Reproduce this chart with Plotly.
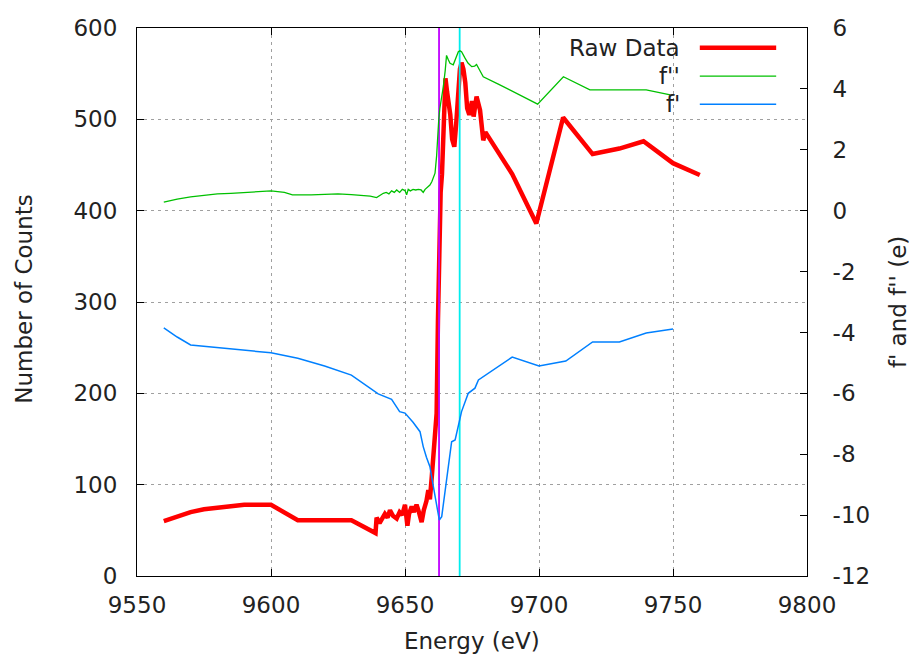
import plotly.graph_objects as go

# Raw counts vs. energy (left axis)
raw_energy = [9560, 9565, 9570, 9575, 9580, 9585, 9590, 9595, 9600, 9610, 9620, 9630,
              9639, 9639.4, 9640.5, 9641.3, 9642.5, 9643.5, 9644.4, 9645.5, 9646.9, 9648,
              9649, 9650, 9650.9, 9651.5, 9652.5, 9653.3, 9654.3, 9655.2, 9656.2, 9657,
              9658, 9658.7, 9659.3, 9660, 9660.6, 9661.8, 9662.3, 9662.8, 9663.3, 9663.8,
              9664.4, 9665.1, 9665.7, 9666.3, 9666.9, 9667.6, 9668.4, 9669.1, 9669.8,
              9670.5, 9671.1, 9671.8, 9672.5, 9673.2, 9674.0, 9675.0, 9675.6, 9676.7,
              9678.0, 9679.2, 9680.0, 9690, 9699, 9709, 9720, 9730, 9739, 9750, 9760]
raw_counts = [60, 65, 70, 73, 75, 77, 78, 78, 78, 61, 61, 61,
              47, 64, 58, 62, 68, 64, 72, 66, 63, 70,
              67, 78, 55, 68, 76, 70, 78, 70, 59, 72,
              82, 94, 84, 109, 138, 178, 280, 400, 420, 440,
              500, 545, 530, 520, 505, 478, 470, 495, 530,
              555, 562, 555, 540, 512, 505, 520, 503, 525,
              510, 477, 486, 440, 386, 502, 462, 468, 476, 452, 439]

# Anomalous scattering f'' (right axis)
f2_energy = [9560, 9565, 9570, 9575, 9580, 9585, 9590, 9595, 9600, 9605, 9608, 9615,
             9620, 9625, 9630, 9637, 9639.4, 9640.5, 9641.9, 9643, 9644, 9645, 9646,
             9646.9, 9648, 9649, 9650, 9650.6, 9651.2, 9652, 9653, 9654, 9655, 9656,
             9656.8, 9657.5, 9658.5, 9659.3, 9660, 9661.2, 9661.8, 9662.2, 9662.6, 9663,
             9663.5, 9664.3, 9665, 9665.5, 9666.2, 9666.8, 9668, 9669, 9669.9, 9670.5,
             9671.1, 9672.4, 9673.5, 9674.9, 9676, 9676.7, 9678, 9679.2, 9685, 9692.9,
             9699.5, 9709.1, 9719, 9730, 9740, 9749]
f2_values = [0.28, 0.38, 0.45, 0.50, 0.55, 0.57, 0.60, 0.63, 0.65, 0.60, 0.52, 0.52,
             0.53, 0.55, 0.53, 0.48, 0.43, 0.50, 0.57, 0.60, 0.55, 0.65, 0.60,
             0.68, 0.60, 0.70, 0.66, 0.52, 0.70, 0.65, 0.70, 0.68, 0.70, 0.68,
             0.60, 0.70, 0.78, 0.84, 0.95, 1.23, 1.80, 2.50, 3.00, 3.36,
             3.60, 4.07, 4.60, 5.10, 4.95, 4.84, 4.79, 5.00, 5.22, 5.25,
             5.22, 5.01, 4.85, 4.73, 4.75, 4.80, 4.60, 4.40, 4.15, 3.80,
             3.50, 4.40, 3.97, 3.97, 3.97, 3.80]

# Anomalous scattering f' (right axis)
f1_energy = [9560, 9565, 9570, 9580, 9590, 9600, 9610, 9620, 9630, 9635, 9640, 9645,
             9648, 9650, 9653, 9655.6, 9656.8, 9658, 9659.3, 9660.6, 9661.8, 9662.8,
             9663.7, 9664.9, 9666.2, 9667.4, 9668.7, 9669.9, 9671.1, 9673.6, 9676.1,
             9677.4, 9680, 9690, 9700, 9710, 9720, 9730, 9740, 9750]
f1_values = [-3.85, -4.15, -4.41, -4.50, -4.60, -4.67, -4.85, -5.10, -5.40, -5.70, -6.02, -6.20,
             -6.60, -6.65, -6.95, -7.26, -7.75, -8.10, -8.41, -9.07, -9.72, -10.16,
             -10.05, -9.28, -8.30, -7.59, -7.53, -7.10, -6.60, -6.00, -5.83,
             -5.56, -5.40, -4.81, -5.10, -4.94, -4.31, -4.31, -4.02, -3.89]

# Edge markers (inflection point and peak)
edge_energies = [9662.7, 9670.4]
edge_colors = ["#C000FF", "#00EEEE"]
count_range = [0, 600]

legend_names = ["Raw Data", "f''", "f'"]
series_colors = ["#FF0000", "#00C000", "#0080FF"]
series_widths = [4.5, 1.3, 1.5]

x_ticks = [9550, 9600, 9650, 9700, 9750, 9800]
y_ticks = [0, 100, 200, 300, 400, 500, 600]
y2_ticks = [-12, -10, -8, -6, -4, -2, 0, 2, 4, 6]

FONT = "DejaVu Sans"
FS = 23
TXT = "#222222"

fig = go.Figure()
fig.add_trace(go.Scatter(x=raw_energy, y=raw_counts, mode="lines", name=legend_names[0],
                         line=dict(color=series_colors[0], width=series_widths[0])))
fig.add_trace(go.Scatter(x=f2_energy, y=f2_values, mode="lines", name=legend_names[1], yaxis="y2",
                         line=dict(color=series_colors[1], width=series_widths[1])))
fig.add_trace(go.Scatter(x=f1_energy, y=f1_values, mode="lines", name=legend_names[2], yaxis="y2",
                         line=dict(color=series_colors[2], width=series_widths[2])))
for e, c in zip(edge_energies, edge_colors):
    fig.add_trace(go.Scatter(x=[e, e], y=count_range, mode="lines", showlegend=False,
                             line=dict(color=c, width=1.8)))

# gnuplot-style key: right-aligned text with the sample line to its right
key_y = [0.964, 0.912, 0.861]
for name, color, width, ky in zip(legend_names, series_colors, series_widths, key_y):
    fig.add_annotation(x=0.8134, y=ky, xref="paper", yref="paper", text=name,
                       showarrow=False, xanchor="right", yanchor="middle",
                       font=dict(family=FONT, size=FS, color=TXT))
    fig.add_shape(type="line", xref="paper", yref="paper", x0=0.840, x1=0.954,
                  y0=ky, y1=ky, line=dict(color=color, width=width))

fig.add_annotation(x=0.5, y=-0.1186, xref="paper", yref="paper", text="Energy (eV)",
                   showarrow=False, xanchor="center", yanchor="middle",
                   font=dict(family=FONT, size=FS, color=TXT))
fig.add_annotation(x=-0.168, y=0.505, xref="paper", yref="paper", text="Number of Counts",
                   showarrow=False, textangle=-90, xanchor="center", yanchor="middle",
                   font=dict(family=FONT, size=FS, color=TXT))
fig.add_annotation(x=1.136, y=0.50, xref="paper", yref="paper", text="f' and f'' (e)",
                   showarrow=False, textangle=-90, xanchor="center", yanchor="middle",
                   font=dict(family=FONT, size=FS, color=TXT))

grid = dict(showgrid=True, gridcolor="#A0A0A0", gridwidth=1, griddash="3px,4px")
fig.update_layout(
    width=911, height=657,
    margin=dict(l=137, r=104, t=28, b=81),
    paper_bgcolor="white", plot_bgcolor="white",
    showlegend=False,
    font=dict(family=FONT, size=FS, color=TXT),
    xaxis=dict(range=[9550, 9800], tickvals=x_ticks, ticktext=[str(v) for v in x_ticks],
               ticks="inside", ticklen=7, tickcolor="black", showline=True, linecolor="black",
               linewidth=1, mirror="ticks", zeroline=False, ticklabelstandoff=8, **grid),
    yaxis=dict(range=[0, 600], tickvals=y_ticks, ticktext=[str(v) for v in y_ticks],
               ticks="inside", ticklen=7, tickcolor="black", showline=True, linecolor="black",
               linewidth=1, mirror=True, zeroline=False, ticklabelstandoff=14, **grid),
    yaxis2=dict(range=[-12, 6], overlaying="y", side="right", tickvals=y2_ticks,
                ticktext=[str(v).replace("\u2212", "-") for v in y2_ticks],
                ticks="inside", ticklen=7, tickcolor="black", showline=True,
                linecolor="black", linewidth=1, showgrid=False, zeroline=False,
                ticklabelstandoff=20),
)

fig.write_html("out.html")
